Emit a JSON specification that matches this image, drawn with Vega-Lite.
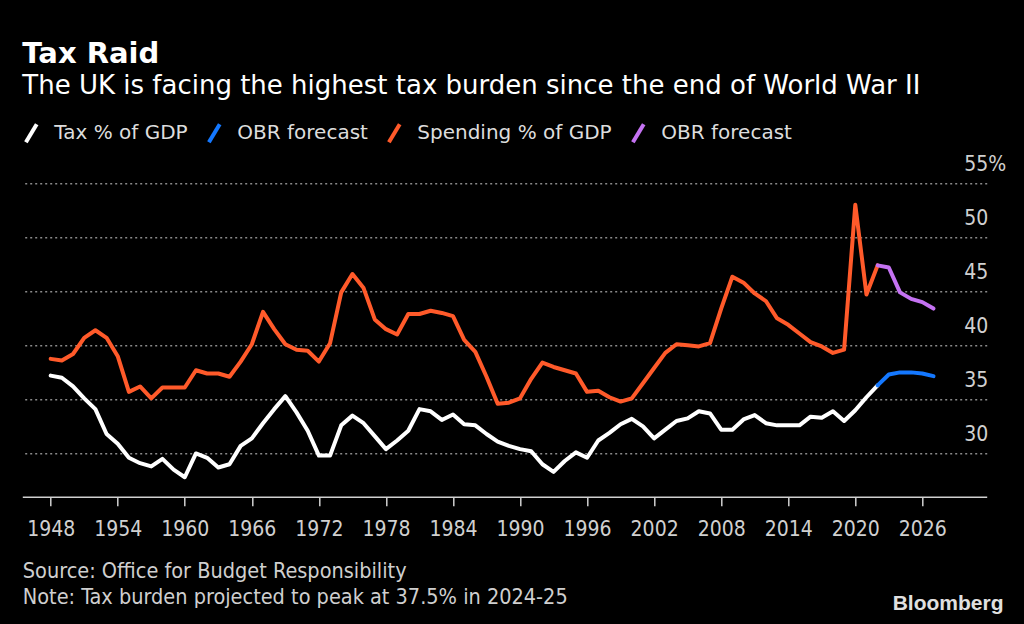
{
  "$schema": "https://vega.github.io/schema/vega-lite/v6.json",
  "autosize": {"type": "none"},
  "width": 964.4,
  "height": 313.5,
  "padding": {"left": 22.3, "top": 183.2, "right": 37.3, "bottom": 127.3},
  "background": "#000000",
  "title": {
    "text": "Tax Raid",
    "subtitle": "The UK is facing the highest tax burden since the end of World War II",
    "anchor": "start",
    "frame": "group",
    "font": "DejaVu Sans",
    "fontSize": 29,
    "fontWeight": "bold",
    "color": "#ffffff",
    "subtitleFont": "DejaVu Sans",
    "subtitleFontSize": 26,
    "subtitleColor": "#ffffff",
    "subtitlePadding": 4,
    "offset": 23
  },
  "config": {
    "view": {"stroke": null},
    "axis": {"labelFont": "DejaVu Sans Condensed", "labelFontSize": 21, "labelColor": "#d0d0d0", "labelFlush": false, "labelOverlap": false}
  },
  "data": {
    "values": [
      {"year": 1948, "value": 37.2, "series": "Tax % of GDP"},
      {"year": 1949, "value": 37.0, "series": "Tax % of GDP"},
      {"year": 1950, "value": 36.2, "series": "Tax % of GDP"},
      {"year": 1951, "value": 35.1, "series": "Tax % of GDP"},
      {"year": 1952, "value": 34.1, "series": "Tax % of GDP"},
      {"year": 1953, "value": 31.8, "series": "Tax % of GDP"},
      {"year": 1954, "value": 30.9, "series": "Tax % of GDP"},
      {"year": 1955, "value": 29.6, "series": "Tax % of GDP"},
      {"year": 1956, "value": 29.1, "series": "Tax % of GDP"},
      {"year": 1957, "value": 28.8, "series": "Tax % of GDP"},
      {"year": 1958, "value": 29.5, "series": "Tax % of GDP"},
      {"year": 1959, "value": 28.5, "series": "Tax % of GDP"},
      {"year": 1960, "value": 27.8, "series": "Tax % of GDP"},
      {"year": 1961, "value": 30.0, "series": "Tax % of GDP"},
      {"year": 1962, "value": 29.6, "series": "Tax % of GDP"},
      {"year": 1963, "value": 28.7, "series": "Tax % of GDP"},
      {"year": 1964, "value": 29.0, "series": "Tax % of GDP"},
      {"year": 1965, "value": 30.7, "series": "Tax % of GDP"},
      {"year": 1966, "value": 31.4, "series": "Tax % of GDP"},
      {"year": 1967, "value": 32.8, "series": "Tax % of GDP"},
      {"year": 1968, "value": 34.1, "series": "Tax % of GDP"},
      {"year": 1969, "value": 35.3, "series": "Tax % of GDP"},
      {"year": 1970, "value": 33.8, "series": "Tax % of GDP"},
      {"year": 1971, "value": 32.1, "series": "Tax % of GDP"},
      {"year": 1972, "value": 29.8, "series": "Tax % of GDP"},
      {"year": 1973, "value": 29.8, "series": "Tax % of GDP"},
      {"year": 1974, "value": 32.6, "series": "Tax % of GDP"},
      {"year": 1975, "value": 33.5, "series": "Tax % of GDP"},
      {"year": 1976, "value": 32.8, "series": "Tax % of GDP"},
      {"year": 1977, "value": 31.6, "series": "Tax % of GDP"},
      {"year": 1978, "value": 30.4, "series": "Tax % of GDP"},
      {"year": 1979, "value": 31.2, "series": "Tax % of GDP"},
      {"year": 1980, "value": 32.1, "series": "Tax % of GDP"},
      {"year": 1981, "value": 34.1, "series": "Tax % of GDP"},
      {"year": 1982, "value": 33.9, "series": "Tax % of GDP"},
      {"year": 1983, "value": 33.1, "series": "Tax % of GDP"},
      {"year": 1984, "value": 33.6, "series": "Tax % of GDP"},
      {"year": 1985, "value": 32.7, "series": "Tax % of GDP"},
      {"year": 1986, "value": 32.6, "series": "Tax % of GDP"},
      {"year": 1987, "value": 31.8, "series": "Tax % of GDP"},
      {"year": 1988, "value": 31.1, "series": "Tax % of GDP"},
      {"year": 1989, "value": 30.7, "series": "Tax % of GDP"},
      {"year": 1990, "value": 30.4, "series": "Tax % of GDP"},
      {"year": 1991, "value": 30.2, "series": "Tax % of GDP"},
      {"year": 1992, "value": 29.0, "series": "Tax % of GDP"},
      {"year": 1993, "value": 28.3, "series": "Tax % of GDP"},
      {"year": 1994, "value": 29.3, "series": "Tax % of GDP"},
      {"year": 1995, "value": 30.1, "series": "Tax % of GDP"},
      {"year": 1996, "value": 29.6, "series": "Tax % of GDP"},
      {"year": 1997, "value": 31.2, "series": "Tax % of GDP"},
      {"year": 1998, "value": 31.9, "series": "Tax % of GDP"},
      {"year": 1999, "value": 32.7, "series": "Tax % of GDP"},
      {"year": 2000, "value": 33.2, "series": "Tax % of GDP"},
      {"year": 2001, "value": 32.5, "series": "Tax % of GDP"},
      {"year": 2002, "value": 31.4, "series": "Tax % of GDP"},
      {"year": 2003, "value": 32.2, "series": "Tax % of GDP"},
      {"year": 2004, "value": 33.0, "series": "Tax % of GDP"},
      {"year": 2005, "value": 33.25, "series": "Tax % of GDP"},
      {"year": 2006, "value": 33.9, "series": "Tax % of GDP"},
      {"year": 2007, "value": 33.7, "series": "Tax % of GDP"},
      {"year": 2008, "value": 32.2, "series": "Tax % of GDP"},
      {"year": 2009, "value": 32.2, "series": "Tax % of GDP"},
      {"year": 2010, "value": 33.15, "series": "Tax % of GDP"},
      {"year": 2011, "value": 33.55, "series": "Tax % of GDP"},
      {"year": 2012, "value": 32.8, "series": "Tax % of GDP"},
      {"year": 2013, "value": 32.6, "series": "Tax % of GDP"},
      {"year": 2014, "value": 32.6, "series": "Tax % of GDP"},
      {"year": 2015, "value": 32.6, "series": "Tax % of GDP"},
      {"year": 2016, "value": 33.4, "series": "Tax % of GDP"},
      {"year": 2017, "value": 33.3, "series": "Tax % of GDP"},
      {"year": 2018, "value": 33.9, "series": "Tax % of GDP"},
      {"year": 2019, "value": 33.0, "series": "Tax % of GDP"},
      {"year": 2020, "value": 34.0, "series": "Tax % of GDP"},
      {"year": 2021, "value": 35.2, "series": "Tax % of GDP"},
      {"year": 2022, "value": 36.3, "series": "Tax % of GDP"},
      {"year": 2022, "value": 36.3, "series": "Tax forecast"},
      {"year": 2023, "value": 37.3, "series": "Tax forecast"},
      {"year": 2024, "value": 37.5, "series": "Tax forecast"},
      {"year": 2025, "value": 37.5, "series": "Tax forecast"},
      {"year": 2026, "value": 37.4, "series": "Tax forecast"},
      {"year": 2027, "value": 37.15, "series": "Tax forecast"},
      {"year": 1948, "value": 38.75, "series": "Spending % of GDP"},
      {"year": 1949, "value": 38.6, "series": "Spending % of GDP"},
      {"year": 1950, "value": 39.2, "series": "Spending % of GDP"},
      {"year": 1951, "value": 40.7, "series": "Spending % of GDP"},
      {"year": 1952, "value": 41.4, "series": "Spending % of GDP"},
      {"year": 1953, "value": 40.7, "series": "Spending % of GDP"},
      {"year": 1954, "value": 39.0, "series": "Spending % of GDP"},
      {"year": 1955, "value": 35.7, "series": "Spending % of GDP"},
      {"year": 1956, "value": 36.2, "series": "Spending % of GDP"},
      {"year": 1957, "value": 35.1, "series": "Spending % of GDP"},
      {"year": 1958, "value": 36.1, "series": "Spending % of GDP"},
      {"year": 1959, "value": 36.1, "series": "Spending % of GDP"},
      {"year": 1960, "value": 36.1, "series": "Spending % of GDP"},
      {"year": 1961, "value": 37.7, "series": "Spending % of GDP"},
      {"year": 1962, "value": 37.4, "series": "Spending % of GDP"},
      {"year": 1963, "value": 37.4, "series": "Spending % of GDP"},
      {"year": 1964, "value": 37.1, "series": "Spending % of GDP"},
      {"year": 1965, "value": 38.5, "series": "Spending % of GDP"},
      {"year": 1966, "value": 40.1, "series": "Spending % of GDP"},
      {"year": 1967, "value": 43.1, "series": "Spending % of GDP"},
      {"year": 1968, "value": 41.5, "series": "Spending % of GDP"},
      {"year": 1969, "value": 40.1, "series": "Spending % of GDP"},
      {"year": 1970, "value": 39.6, "series": "Spending % of GDP"},
      {"year": 1971, "value": 39.5, "series": "Spending % of GDP"},
      {"year": 1972, "value": 38.5, "series": "Spending % of GDP"},
      {"year": 1973, "value": 40.2, "series": "Spending % of GDP"},
      {"year": 1974, "value": 44.9, "series": "Spending % of GDP"},
      {"year": 1975, "value": 46.6, "series": "Spending % of GDP"},
      {"year": 1976, "value": 45.3, "series": "Spending % of GDP"},
      {"year": 1977, "value": 42.4, "series": "Spending % of GDP"},
      {"year": 1978, "value": 41.5, "series": "Spending % of GDP"},
      {"year": 1979, "value": 41.0, "series": "Spending % of GDP"},
      {"year": 1980, "value": 42.9, "series": "Spending % of GDP"},
      {"year": 1981, "value": 42.9, "series": "Spending % of GDP"},
      {"year": 1982, "value": 43.2, "series": "Spending % of GDP"},
      {"year": 1983, "value": 43.0, "series": "Spending % of GDP"},
      {"year": 1984, "value": 42.7, "series": "Spending % of GDP"},
      {"year": 1985, "value": 40.5, "series": "Spending % of GDP"},
      {"year": 1986, "value": 39.4, "series": "Spending % of GDP"},
      {"year": 1987, "value": 37.1, "series": "Spending % of GDP"},
      {"year": 1988, "value": 34.6, "series": "Spending % of GDP"},
      {"year": 1989, "value": 34.7, "series": "Spending % of GDP"},
      {"year": 1990, "value": 35.1, "series": "Spending % of GDP"},
      {"year": 1991, "value": 36.9, "series": "Spending % of GDP"},
      {"year": 1992, "value": 38.4, "series": "Spending % of GDP"},
      {"year": 1993, "value": 38.0, "series": "Spending % of GDP"},
      {"year": 1994, "value": 37.7, "series": "Spending % of GDP"},
      {"year": 1995, "value": 37.4, "series": "Spending % of GDP"},
      {"year": 1996, "value": 35.7, "series": "Spending % of GDP"},
      {"year": 1997, "value": 35.8, "series": "Spending % of GDP"},
      {"year": 1998, "value": 35.2, "series": "Spending % of GDP"},
      {"year": 1999, "value": 34.8, "series": "Spending % of GDP"},
      {"year": 2000, "value": 35.1, "series": "Spending % of GDP"},
      {"year": 2001, "value": 36.5, "series": "Spending % of GDP"},
      {"year": 2002, "value": 37.9, "series": "Spending % of GDP"},
      {"year": 2003, "value": 39.3, "series": "Spending % of GDP"},
      {"year": 2004, "value": 40.1, "series": "Spending % of GDP"},
      {"year": 2005, "value": 40.0, "series": "Spending % of GDP"},
      {"year": 2006, "value": 39.9, "series": "Spending % of GDP"},
      {"year": 2007, "value": 40.2, "series": "Spending % of GDP"},
      {"year": 2008, "value": 43.4, "series": "Spending % of GDP"},
      {"year": 2009, "value": 46.35, "series": "Spending % of GDP"},
      {"year": 2010, "value": 45.8, "series": "Spending % of GDP"},
      {"year": 2011, "value": 44.8, "series": "Spending % of GDP"},
      {"year": 2012, "value": 44.1, "series": "Spending % of GDP"},
      {"year": 2013, "value": 42.5, "series": "Spending % of GDP"},
      {"year": 2014, "value": 41.9, "series": "Spending % of GDP"},
      {"year": 2015, "value": 41.1, "series": "Spending % of GDP"},
      {"year": 2016, "value": 40.3, "series": "Spending % of GDP"},
      {"year": 2017, "value": 39.9, "series": "Spending % of GDP"},
      {"year": 2018, "value": 39.3, "series": "Spending % of GDP"},
      {"year": 2019, "value": 39.6, "series": "Spending % of GDP"},
      {"year": 2020, "value": 53.0, "series": "Spending % of GDP"},
      {"year": 2021, "value": 44.7, "series": "Spending % of GDP"},
      {"year": 2022, "value": 47.4, "series": "Spending % of GDP"},
      {"year": 2022, "value": 47.4, "series": "Spending forecast"},
      {"year": 2023, "value": 47.2, "series": "Spending forecast"},
      {"year": 2024, "value": 44.9, "series": "Spending forecast"},
      {"year": 2025, "value": 44.3, "series": "Spending forecast"},
      {"year": 2026, "value": 44.0, "series": "Spending forecast"},
      {"year": 2027, "value": 43.4, "series": "Spending forecast"}
    ]
  },
  "mark": {"type": "line", "strokeWidth": 4, "strokeJoin": "round", "strokeCap": "round"},
  "encoding": {
    "x": {
      "field": "year",
      "type": "quantitative",
      "scale": {"domain": [1945.46, 2031.76], "nice": false, "zero": false},
      "axis": {
        "values": [1948, 1954, 1960, 1966, 1972, 1978, 1984, 1990, 1996, 2002, 2008, 2014, 2020, 2026],
        "format": "d",
        "grid": false,
        "domainColor": "#d0d0d0",
        "domainWidth": 1.5,
        "tickColor": "#d0d0d0",
        "tickWidth": 1.5,
        "tickSize": 9,
        "labelPadding": 13,
        "title": ["Source: Office for Budget Responsibility", "Note: Tax burden projected to peak at 37.5% in 2024-25"],
        "titleFont": "DejaVu Sans Condensed",
        "titleFontSize": 21.5,
        "titleFontWeight": "normal",
        "titleColor": "#cfcfcf",
        "titleAnchor": "start",
        "titleAlign": "left",
        "titleBaseline": "alphabetic",
        "titleX": 0,
        "titleY": 80.3,
        "titleLineHeight": 26
      }
    },
    "y": {
      "field": "value",
      "type": "quantitative",
      "scale": {"domain": [26, 55], "nice": false, "zero": false},
      "axis": {
        "orient": "right",
        "values": [30, 35, 40, 45, 50, 55],
        "labelExpr": "datum.value == 55 ? '55%' : datum.label",
        "domain": false,
        "ticks": false,
        "tickSize": 0,
        "labelAlign": "left",
        "labelBaseline": "alphabetic",
        "labelPadding": -23,
        "labelOffset": -13,
        "grid": true,
        "gridColor": "#8a8a8a",
        "gridWidth": 1.5,
        "gridDash": [2, 3],
        "title": "Bloomberg",
        "titleFont": "Liberation Sans",
        "titleFontWeight": "bold",
        "titleFontSize": 21,
        "titleColor": "#e0e0e0",
        "titleAngle": 0,
        "titleAlign": "right",
        "titleBaseline": "alphabetic",
        "titleX": 16.3,
        "titleY": 426
      }
    },
    "color": {
      "field": "series",
      "type": "nominal",
      "scale": {
        "domain": ["Tax % of GDP", "Tax forecast", "Spending % of GDP", "Spending forecast"],
        "range": ["#ffffff", "#1478ff", "#ff5a2a", "#c472f2"]
      },
      "legend": {
        "orient": "none",
        "legendX": -2,
        "legendY": -61,
        "direction": "horizontal",
        "title": null,
        "padding": 0,
        "labelExpr": "indexof(datum.label, 'forecast') >= 0 ? 'OBR forecast' : datum.label",
        "labelFont": "DejaVu Sans",
        "labelFontSize": 20,
        "labelColor": "#dddddd",
        "labelOffset": 12,
        "columnPadding": 12,
        "symbolType": "M-0.6,1L0.6,-1",
        "symbolSize": 324,
        "symbolStrokeWidth": 4,
        "labelLimit": 0
      }
    }
  }
}
